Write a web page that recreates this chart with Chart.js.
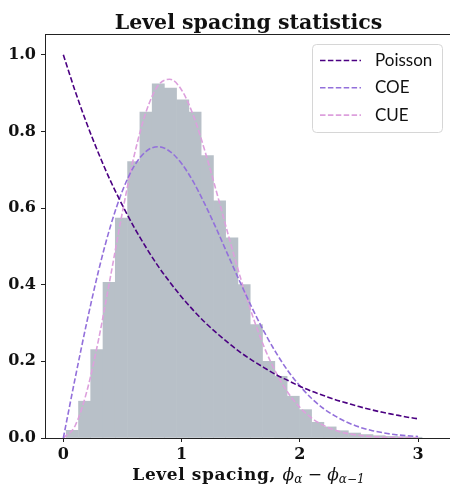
<!DOCTYPE html>
<html>
<head>
<meta charset="utf-8">
<script src="https://cdn.jsdelivr.net/npm/chart.js@4"></script>
<style>
  body { margin: 0; background: #fff; }
  canvas { display: block; }
</style>
</head>
<body>
<canvas id="myChart" width="450" height="487"></canvas>
<script>
// histogram bins (centres) and heights
const binCenters = [0.076, 0.180, 0.283, 0.387, 0.491, 0.595, 0.699, 0.803, 0.906, 1.010,
  1.114, 1.218, 1.321, 1.425, 1.529, 1.633, 1.737, 1.841, 1.944, 2.048,
  2.152, 2.256, 2.359, 2.463, 2.567, 2.671, 2.775, 2.879, 2.982];
const binHeights = [0.020, 0.096, 0.231, 0.406, 0.574, 0.721, 0.850, 0.924, 0.913, 0.882,
  0.850, 0.737, 0.619, 0.522, 0.400, 0.296, 0.200, 0.161, 0.109, 0.074,
  0.041, 0.029, 0.019, 0.013, 0.009, 0.006, 0.004, 0.003, 0.002];

// dashed curves, sampled every 0.1
const curveX = [0, 0.1, 0.2, 0.3, 0.4, 0.5, 0.6, 0.7, 0.8, 0.9, 1.0, 1.1, 1.2, 1.3, 1.4, 1.5,
  1.6, 1.7, 1.8, 1.9, 2.0, 2.1, 2.2, 2.3, 2.4, 2.5, 2.6, 2.7, 2.8, 2.9, 3.0];
const poisson = [1.000, 0.905, 0.819, 0.741, 0.670, 0.607, 0.549, 0.497, 0.449, 0.407, 0.368,
  0.333, 0.301, 0.273, 0.247, 0.223, 0.202, 0.183, 0.165, 0.150, 0.135,
  0.122, 0.111, 0.100, 0.091, 0.082, 0.074, 0.067, 0.061, 0.055, 0.050];
const coe = [0, 0.156, 0.304, 0.439, 0.554, 0.645, 0.710, 0.748, 0.760, 0.748, 0.716,
  0.668, 0.608, 0.542, 0.472, 0.403, 0.337, 0.276, 0.222, 0.175, 0.136,
  0.103, 0.077, 0.057, 0.041, 0.029, 0.020, 0.014, 0.009, 0.006, 0.004];
const cue = [0, 0.032, 0.123, 0.260, 0.423, 0.590, 0.738, 0.851, 0.919, 0.936, 0.908,
  0.841, 0.746, 0.637, 0.524, 0.416, 0.319, 0.236, 0.170, 0.118, 0.080,
  0.052, 0.033, 0.020, 0.012, 0.007, 0.004, 0.002, 0.001, 0.001, 0.000];

const xTicks = [0, 1, 2, 3];
const yTicks = [0, 0.2, 0.4, 0.6, 0.8, 1.0];

const serifBold = "'DejaVu Serif', serif";

function toPoints(xs, ys) {
  return xs.map((x, i) => ({ x: x, y: ys[i] }));
}

function dashed(label, ys, color) {
  return {
    type: "line",
    label: label,
    data: toPoints(curveX, ys),
    borderColor: color,
    borderWidth: 1.6,
    borderDash: [5.5, 2.4],
    pointRadius: 0,
    fill: false,
    cubicInterpolationMode: "monotone",
    order: 1,
  };
}

// title, top spine, matplotlib-ish legend and the x label with subscripts
const extras = {
  id: "extras",
  afterDraw(chart) {
    const ctx = chart.ctx;
    const area = chart.chartArea;
    const mid = (area.left + area.right) / 2 + 1;
    ctx.save();

    ctx.fillStyle = "#111";
    ctx.font = "bold 20.5px " + serifBold;
    ctx.textAlign = "center";
    ctx.textBaseline = "alphabetic";
    ctx.fillText("Level spacing statistics", mid, 29);
    ctx.textAlign = "left";

    ctx.strokeStyle = "#222";
    ctx.lineWidth = 1;
    ctx.beginPath();
    ctx.moveTo(area.left, Math.round(area.top) + 0.5);
    ctx.lineTo(area.right, Math.round(area.top) + 0.5);
    ctx.stroke();

    // legend
    const bx = 312.5, by = 44.5, bw = 130, bh = 88, r = 4;
    ctx.fillStyle = "rgba(255,255,255,0.8)";
    ctx.strokeStyle = "#d6d6d6";
    ctx.beginPath();
    ctx.roundRect(bx, by, bw, bh, r);
    ctx.fill();
    ctx.stroke();
    const lines = chart.data.datasets.filter((d) => d.type === "line");
    ctx.font = "17px Lato";
    ctx.textBaseline = "middle";
    lines.forEach((d, i) => {
      const y = 60.5 + i * 27.3;
      ctx.strokeStyle = d.borderColor;
      ctx.lineWidth = d.borderWidth;
      ctx.setLineDash(d.borderDash);
      ctx.beginPath();
      ctx.moveTo(320, y);
      ctx.lineTo(361, y);
      ctx.stroke();
      ctx.setLineDash([]);
      ctx.fillStyle = "#111";
      ctx.fillText(d.label, 375, y);
    });

    // x axis label: Level spacing, phi_alpha - phi_{alpha-1}
    const parts = [
      { t: "Level spacing, ", f: "bold 17px " + serifBold, dy: 0, ls: "0.6px" },
      { t: "\u03d5", f: "italic 17px 'DejaVu Serif'", dy: 0, ls: "0px" },
      { t: "\u03b1", f: "italic 12px 'DejaVu Serif'", dy: 3, ls: "0px" },
      { t: " \u2212 ", f: "17px 'DejaVu Serif'", dy: 0, ls: "0px" },
      { t: "\u03d5", f: "italic 17px 'DejaVu Serif'", dy: 0, ls: "0px" },
      { t: "\u03b1\u22121", f: "italic 12px 'DejaVu Serif'", dy: 3, ls: "0px" },
    ];
    let total = 0;
    parts.forEach((p) => {
      ctx.font = p.f;
      ctx.letterSpacing = p.ls;
      p.w = ctx.measureText(p.t).width;
      total += p.w;
    });
    let x = mid - total / 2;
    ctx.fillStyle = "#111";
    ctx.textBaseline = "alphabetic";
    parts.forEach((p) => {
      ctx.font = p.f;
      ctx.letterSpacing = p.ls;
      ctx.fillText(p.t, x, 480 + p.dy);
      x += p.w;
    });
    ctx.restore();
  },
};

new Chart(document.getElementById("myChart"), {
  type: "bar",
  data: {
    datasets: [
      dashed("Poisson", poisson, "#4b0082"),
      dashed("COE", coe, "#9370db"),
      dashed("CUE", cue, "#dda0dd"),
      {
        type: "bar",
        label: "data",
        data: toPoints(binCenters, binHeights),
        backgroundColor: "#b8c0c8",
        borderWidth: 0,
        barPercentage: 1,
        categoryPercentage: 1,
        order: 5,
      },
    ],
  },
  options: {
    responsive: false,
    animation: false,
    devicePixelRatio: 1,
    layout: { padding: { top: 34 } },
    plugins: {
      legend: { display: false },
      tooltip: { enabled: false },
      title: { display: false },
    },
    scales: {
      x: {
        type: "linear",
        min: -0.155,
        max: 3.27,
        offset: false,
        afterBuildTicks: (axis) => { axis.ticks = xTicks.map((v) => ({ value: v })); },
        afterFit: (axis) => { axis.height = 49; },
        grid: { display: true, offset: false, drawOnChartArea: false, drawTicks: true, tickLength: 4, color: "#222" },
        border: { display: true, color: "#222", width: 1 },
        ticks: {
          color: "#111",
          padding: 3,
          maxRotation: 0,
          font: { family: serifBold, weight: "bold", size: 16 },
          callback: (v) => String(v),
        },
      },
      y: {
        min: 0,
        max: 1.054,
        afterBuildTicks: (axis) => { axis.ticks = yTicks.map((v) => ({ value: v })); },
        afterFit: (axis) => { axis.width = 45; },
        grid: { display: true, drawOnChartArea: false, drawTicks: true, tickLength: 4, color: "#222" },
        border: { display: true, color: "#222", width: 1 },
        ticks: {
          color: "#111",
          padding: 5,
          font: { family: serifBold, weight: "bold", size: 16 },
          callback: (v) => v.toFixed(1),
        },
      },
    },
  },
  plugins: [extras],
});
</script>
</body>
</html>
